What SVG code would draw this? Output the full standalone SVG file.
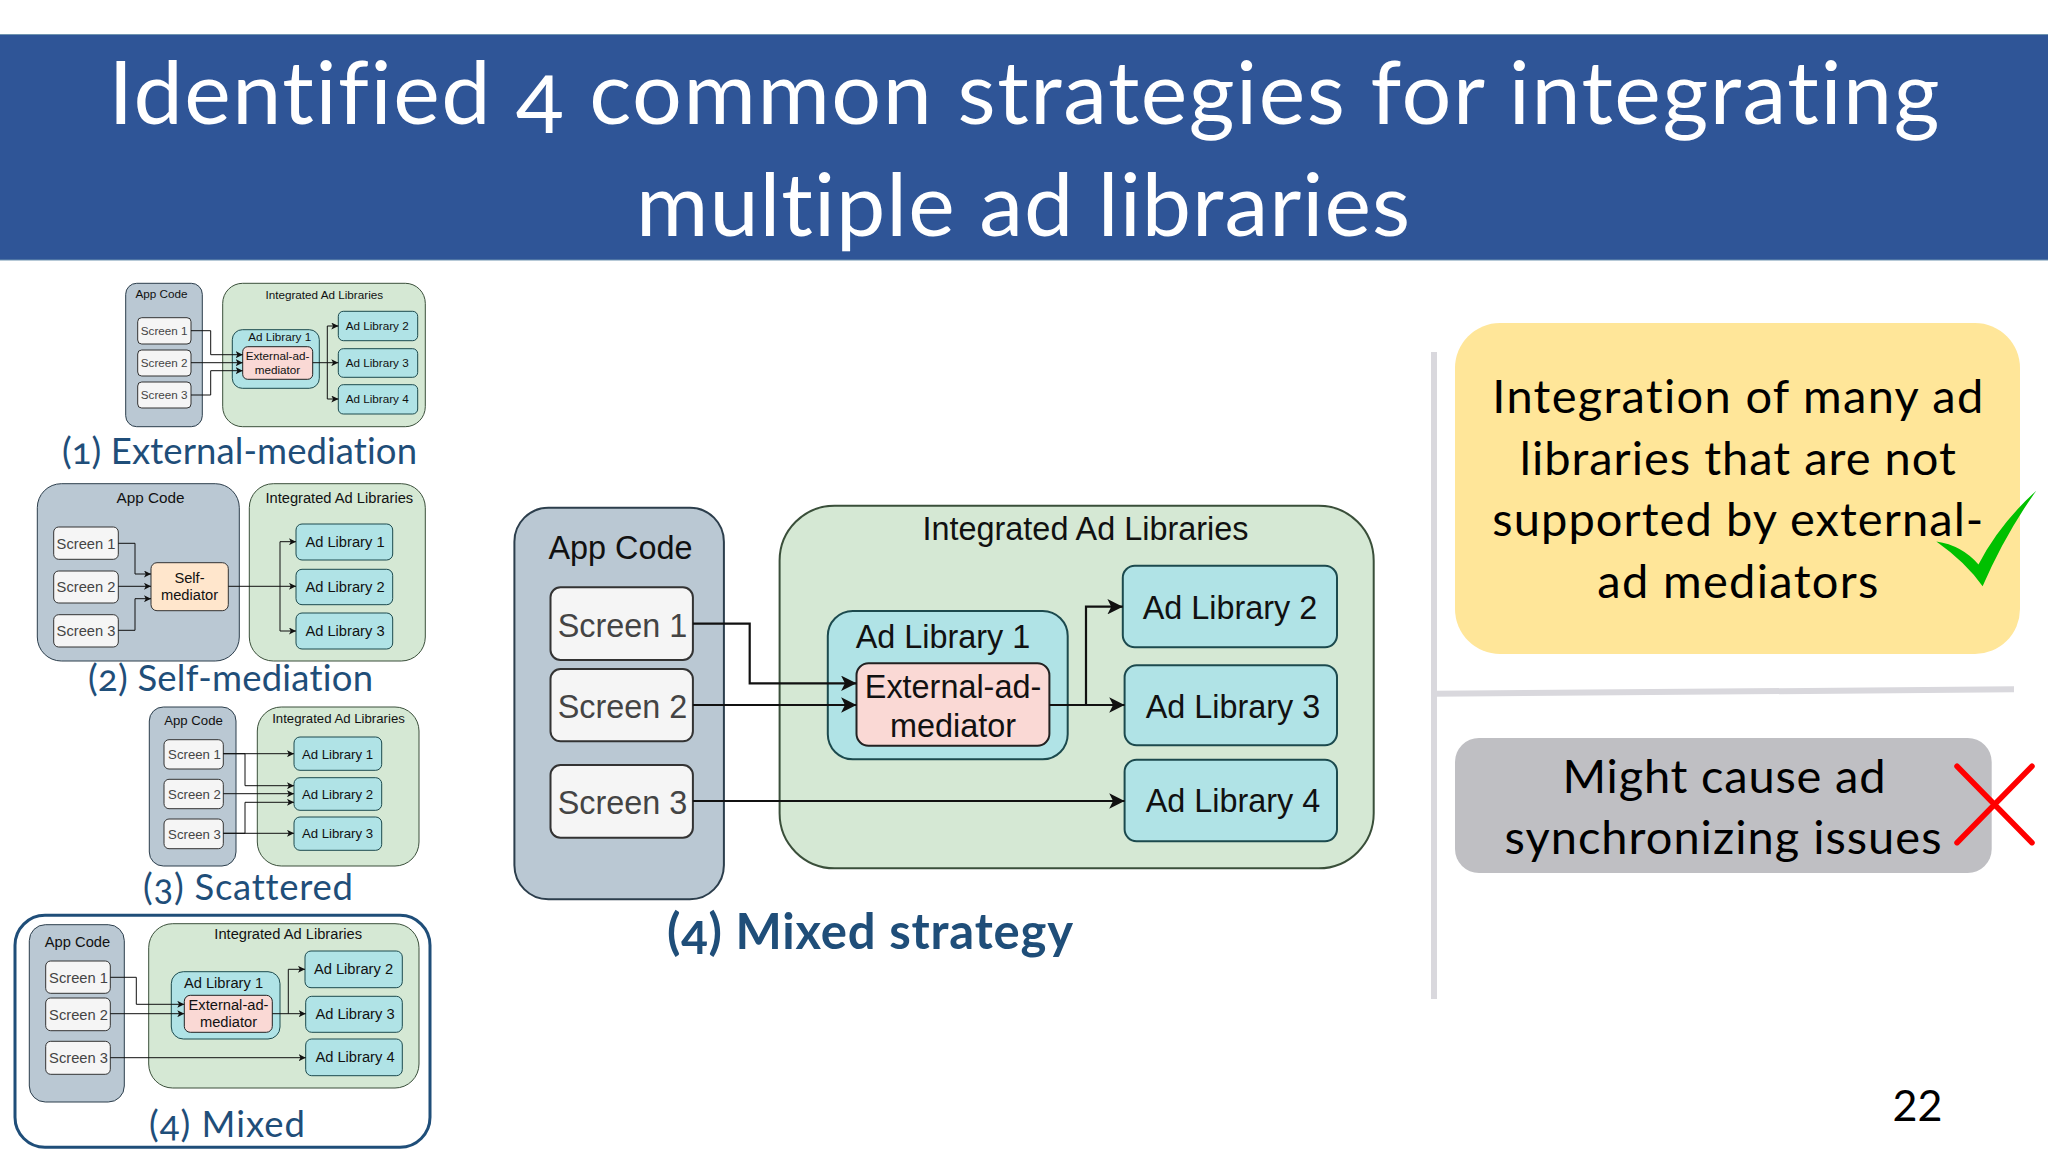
<svg xmlns="http://www.w3.org/2000/svg" width="2048" height="1152" viewBox="0 0 2048 1152">
<defs>
<marker id="arrow" markerUnits="strokeWidth" viewBox="0 0 10 10" refX="10" refY="5" markerWidth="7" markerHeight="7" orient="auto"><path d="M0 0L10 5L0 10L2.5 5Z" fill="#111"/></marker>
</defs>
<style>
text{font-family:"Liberation Sans",Arial,sans-serif;text-anchor:middle;fill:#111}
.cand{font-family:Lato,"Open Sans",sans-serif;font-variant-numeric:oldstyle-nums;font-variant-ligatures:no-common-ligatures}
.title{fill:#fff;font-size:88px}
.cap{fill:#1f4e79;font-size:36.5px;text-anchor:start}
.body{fill:#000;font-size:47px}
.app{fill:#bac8d3;stroke:#2c3e4c}
.int{fill:#d5e8d4;stroke:#3a4f3a}
.scr{fill:#f5f5f5;stroke:#333}
.lib{fill:#b0e3e6;stroke:#1c4a4e}
.ext{fill:#fad9d5;stroke:#222}
.self{fill:#ffe6cc;stroke:#333}
.st{fill:#444}
.s1 rect{stroke-width:1}.s1 text{font-size:11.7px}
.s2 rect{stroke-width:1}.s2 text{font-size:14.7px}
.s3 rect{stroke-width:1}.s3 text{font-size:13.2px}
.s4 rect{stroke-width:1}.s4 text{font-size:14.7px}
.s5 rect{stroke-width:2}.s5 text{font-size:32.4px}
.c{fill:none;stroke:#111;stroke-width:1;marker-end:url(#arrow)}
.cb{fill:none;stroke:#111;stroke-width:2.2;marker-end:url(#arrow)}
</style>
<rect width="2048" height="1152" fill="#fff"/>
<g id="header">
<rect x="-2" y="34.5" width="2052" height="225.5" fill="#2f5597" stroke="#6f94b0" stroke-width="1"/>
<text class="cand title" x="1024" y="123.5" textLength="1831">Identified 4 common strategies for integrating</text>
<text class="cand title" x="1023" y="236" textLength="774">multiple ad libraries</text>
</g>

<g class="s1">
<g id="d1-app"><rect class="app" x="125.7" y="283.3" width="76.6" height="143.4" rx="11"/><text x="161.5" y="298.2">App Code</text></g>
<g id="d1-screen1"><rect class="scr" x="137.7" y="317.7" width="53.3" height="26.3" rx="4"/><text class="st" x="164.2" y="334.7">Screen 1</text></g>
<g id="d1-screen2"><rect class="scr" x="137.7" y="350" width="53.3" height="26" rx="4"/><text class="st" x="164.2" y="366.7">Screen 2</text></g>
<g id="d1-screen3"><rect class="scr" x="137.7" y="382" width="53.3" height="26" rx="4"/><text class="st" x="164.2" y="398.7">Screen 3</text></g>
<g id="d1-int"><rect class="int" x="222.7" y="283.3" width="202.6" height="143.4" rx="20"/><text x="324.3" y="298.7">Integrated Ad Libraries</text></g>
<g id="d1-lib1"><rect class="lib" x="232.3" y="329.7" width="87" height="58.6" rx="10"/><text x="279.7" y="341">Ad Library 1</text></g>
<g id="d1-ext"><rect class="ext" x="242.7" y="346.7" width="70" height="32.6" rx="5"/><text x="277.5" y="360">External-ad-</text><text x="277.5" y="374">mediator</text></g>
<g id="d1-lib2"><rect class="lib" x="338.3" y="311.3" width="79.4" height="29.4" rx="5"/><text x="377.2" y="330.3">Ad Library 2</text></g>
<g id="d1-lib3"><rect class="lib" x="338.3" y="348.7" width="79.4" height="28.6" rx="5"/><text x="377.2" y="367">Ad Library 3</text></g>
<g id="d1-lib4"><rect class="lib" x="338.3" y="384.7" width="79.4" height="29.3" rx="5"/><text x="377.2" y="403.3">Ad Library 4</text></g>
</g>

<g class="s2">
<g id="d2-app"><rect class="app" x="37.3" y="483.7" width="202" height="177.3" rx="24"/><text x="150.5" y="503" style="font-size:15.3px">App Code</text></g>
<g id="d2-screen1"><rect class="scr" x="53.7" y="527" width="64.6" height="32.3" rx="5"/><text class="st" x="86" y="548.5">Screen 1</text></g>
<g id="d2-screen2"><rect class="scr" x="53.7" y="571" width="64.6" height="32" rx="5"/><text class="st" x="86" y="592">Screen 2</text></g>
<g id="d2-screen3"><rect class="scr" x="53.7" y="614.7" width="64.6" height="32.3" rx="5"/><text class="st" x="86" y="636">Screen 3</text></g>
<g id="d2-self"><rect class="self" x="151" y="562.7" width="77.3" height="48" rx="6"/><text x="189.5" y="583">Self-</text><text x="189.5" y="600">mediator</text></g>
<g id="d2-int"><rect class="int" x="249.3" y="483.7" width="176" height="177.3" rx="24"/><text x="339.3" y="503">Integrated Ad Libraries</text></g>
<g id="d2-lib1"><rect class="lib" x="296" y="524" width="96.7" height="36" rx="6"/><text x="345" y="547">Ad Library 1</text></g>
<g id="d2-lib2"><rect class="lib" x="296" y="569.3" width="96.7" height="35.4" rx="6"/><text x="345" y="592">Ad Library 2</text></g>
<g id="d2-lib3"><rect class="lib" x="296" y="613" width="96.7" height="36" rx="6"/><text x="345" y="636">Ad Library 3</text></g>
</g>

<g class="s3">
<g id="d3-app"><rect class="app" x="149.3" y="707" width="86.7" height="159" rx="14"/><text x="193.5" y="725">App Code</text></g>
<g id="d3-screen1"><rect class="scr" x="164" y="739.7" width="59.3" height="29.3" rx="5"/><text class="st" x="194.5" y="759">Screen 1</text></g>
<g id="d3-screen2"><rect class="scr" x="164" y="779.3" width="59.3" height="29.4" rx="5"/><text class="st" x="194.5" y="799">Screen 2</text></g>
<g id="d3-screen3"><rect class="scr" x="164" y="819" width="59.3" height="29.7" rx="5"/><text class="st" x="194.5" y="838.5">Screen 3</text></g>
<g id="d3-int"><rect class="int" x="257.3" y="707" width="161.7" height="159" rx="24"/><text x="338.5" y="723">Integrated Ad Libraries</text></g>
<g id="d3-lib1"><rect class="lib" x="294" y="737" width="87.7" height="33.3" rx="6"/><text x="337.5" y="758.5">Ad Library 1</text></g>
<g id="d3-lib2"><rect class="lib" x="294" y="777.7" width="87.7" height="32.6" rx="6"/><text x="337.5" y="798.5">Ad Library 2</text></g>
<g id="d3-lib3"><rect class="lib" x="294" y="817" width="87.7" height="33.3" rx="6"/><text x="337.5" y="838">Ad Library 3</text></g>
</g>

<g id="d4-frame"><rect x="15" y="915.3" width="415" height="232" rx="30" fill="#fff" stroke="#1f4e79" stroke-width="3"/></g>

<g class="s4">
<g id="d4-app"><rect class="app" x="29.3" y="924.7" width="95" height="177.3" rx="16"/><text x="77.5" y="947">App Code</text></g>
<g id="d4-screen1"><rect class="scr" x="45.7" y="961" width="64.6" height="32.3" rx="5"/><text class="st" x="78.5" y="983">Screen 1</text></g>
<g id="d4-screen2"><rect class="scr" x="45.7" y="998" width="64.6" height="32.7" rx="5"/><text class="st" x="78.5" y="1019.5">Screen 2</text></g>
<g id="d4-screen3"><rect class="scr" x="45.7" y="1041.3" width="64.6" height="33" rx="5"/><text class="st" x="78.5" y="1063">Screen 3</text></g>
<g id="d4-int"><rect class="int" x="148.7" y="923.7" width="270.3" height="164.3" rx="24"/><text x="288.2" y="939">Integrated Ad Libraries</text></g>
<g id="d4-lib1"><rect class="lib" x="171.3" y="971.7" width="108.7" height="67.3" rx="12"/><text x="223.5" y="988">Ad Library 1</text></g>
<g id="d4-ext"><rect class="ext" x="184.3" y="995.3" width="88" height="37" rx="6"/><text x="228.5" y="1010">External-ad-</text><text x="228.5" y="1027">mediator</text></g>
<g id="d4-lib2"><rect class="lib" x="305" y="951" width="97.3" height="36.7" rx="6"/><text x="353.5" y="974">Ad Library 2</text></g>
<g id="d4-lib3"><rect class="lib" x="305.7" y="996.3" width="96.6" height="36" rx="6"/><text x="355" y="1019">Ad Library 3</text></g>
<g id="d4-lib4"><rect class="lib" x="305.7" y="1039" width="96.6" height="36.7" rx="6"/><text x="355" y="1062">Ad Library 4</text></g>
</g>

<g class="s5">
<g id="d5-app"><rect class="app" x="514.4" y="507.7" width="209.5" height="391.6" rx="34"/><text x="620.5" y="558.5">App Code</text></g>
<g id="d5-screen1"><rect class="scr" x="550.5" y="587.3" width="142.4" height="72.7" rx="10"/><text class="st" x="622.5" y="636.7">Screen 1</text></g>
<g id="d5-screen2"><rect class="scr" x="550.5" y="669" width="142.4" height="72.3" rx="10"/><text class="st" x="622.5" y="717.7">Screen 2</text></g>
<g id="d5-screen3"><rect class="scr" x="550.5" y="765" width="142.4" height="72.7" rx="10"/><text class="st" x="622.5" y="813.7">Screen 3</text></g>
<g id="d5-int"><rect class="int" x="779.6" y="505.7" width="594.1" height="362.6" rx="55"/><text x="1085.5" y="539.5">Integrated Ad Libraries</text></g>
<g id="d5-lib1"><rect class="lib" x="827.8" y="611" width="239.9" height="148.3" rx="25"/><text x="943" y="647.7">Ad Library 1</text></g>
<g id="d5-ext"><rect class="ext" x="856.5" y="663.3" width="192.9" height="82.4" rx="12"/><text x="953" y="697.5">External-ad-</text><text x="953" y="736.5">mediator</text></g>
<g id="d5-lib2"><rect class="lib" x="1122.8" y="565.7" width="214.2" height="81.6" rx="12"/><text x="1230" y="618.5">Ad Library 2</text></g>
<g id="d5-lib3"><rect class="lib" x="1124.6" y="665.3" width="212.4" height="80" rx="12"/><text x="1233" y="717.5">Ad Library 3</text></g>
<g id="d5-lib4"><rect class="lib" x="1124.6" y="759.7" width="212.4" height="81.6" rx="12"/><text x="1233" y="811.5">Ad Library 4</text></g>
</g>

<g id="connectors">
<path class="c" d="M191 330.7H210.7V354.7H242.7"/>
<path class="c" d="M191 362.7H242.7"/>
<path class="c" d="M191 395H210.7V370.7H242.7"/>
<path class="c" d="M312.7 362.7H338.3"/>
<path class="c" d="M327.3 362.7V326H338.3"/>
<path class="c" d="M327.3 362.7V399H338.3"/>
<path class="c" d="M118.3 543.3H135V574H151"/>
<path class="c" d="M118.3 586.3H151"/>
<path class="c" d="M118.3 630.3H135V598.7H151"/>
<path class="c" d="M228.3 586.3H296"/>
<path class="c" d="M280 586.3V541.7H296"/>
<path class="c" d="M280 586.3V631H296"/>
<path class="c" d="M223.3 753.7H294"/>
<path class="c" d="M223.3 753.7H245V785.7H294"/>
<path class="c" d="M223.3 793.7H294"/>
<path class="c" d="M223.3 833.3H294"/>
<path class="c" d="M223.3 833.3H245V802.3H294"/>
<path class="c" d="M110.3 977.3H136.3V1004.3H184.3"/>
<path class="c" d="M110.3 1013.7H184.3"/>
<path class="c" d="M110.3 1057.7H305.7"/>
<path class="c" d="M272.3 1013.7H305.7"/>
<path class="c" d="M288.3 1013.7V969.3H305"/>
<path class="cb" d="M692.9 623.7H749.7V683.3H856.5"/>
<path class="cb" d="M692.9 705H856.5"/>
<path class="cb" d="M692.9 801H1124.6"/>
<path class="cb" d="M1049.4 705H1124.6"/>
<path class="cb" d="M1086 705V606.7H1122.8"/>
</g>

<g id="captions">
<text class="cand cap" x="62" y="464.3" textLength="355">(1) External-mediation</text>
<text class="cand cap" x="88" y="691.2" textLength="285">(2) Self-mediation</text>
<text class="cand cap" x="143" y="900" textLength="210">(3) Scattered</text>
<text class="cand cap" x="149" y="1137" textLength="156">(4) Mixed</text>
<text class="cand cap" x="667" y="949" textLength="406" font-weight="700" style="font-size:49px">(4) Mixed strategy</text>
</g>

<g id="dividers" fill="none" stroke="#d9d8dd">
<path d="M1434 352V999" stroke-width="6"/>
<path d="M1434 693.8L2014 689.3" stroke-width="6"/>
</g>

<g id="pro">
<rect x="1455" y="323" width="565" height="331" rx="45" fill="#ffe699"/>
<text class="cand body" x="1737.8" y="413" textLength="491">Integration of many ad</text>
<text class="cand body" x="1737.8" y="475" textLength="436">libraries that are not</text>
<text class="cand body" x="1737.8" y="536.3" textLength="491">supported by external-</text>
<text class="cand body" x="1737.8" y="597.5" textLength="281">ad mediators</text>
</g>
<g id="check"><path transform="translate(1400 310) scale(.4132 .3827)" d="M1298 605Q1360 615 1400 665Q1450 560 1540 472Q1465 585 1410 722Q1370 660 1298 605Z" fill="#00c000"/></g>
<g id="con">
<rect x="1455" y="737.9" width="536.7" height="135.1" rx="24" fill="#bfbfc3"/>
<text class="cand body" x="1724" y="792.7" textLength="323">Might cause ad</text>
<text class="cand body" x="1723" y="853.9" textLength="437">synchronizing issues</text>
</g>
<g id="cross" stroke="#ff0000" stroke-width="5.5" stroke-linecap="round"><path d="M1957 766.2L2032 842.7M2032 766.2L1957 842.7"/></g>
<text id="page" x="1917.5" y="1121" style="font-family:Lato,'Open Sans',sans-serif;font-variant-numeric:lining-nums;font-size:43px;fill:#000">22</text>
</svg>
